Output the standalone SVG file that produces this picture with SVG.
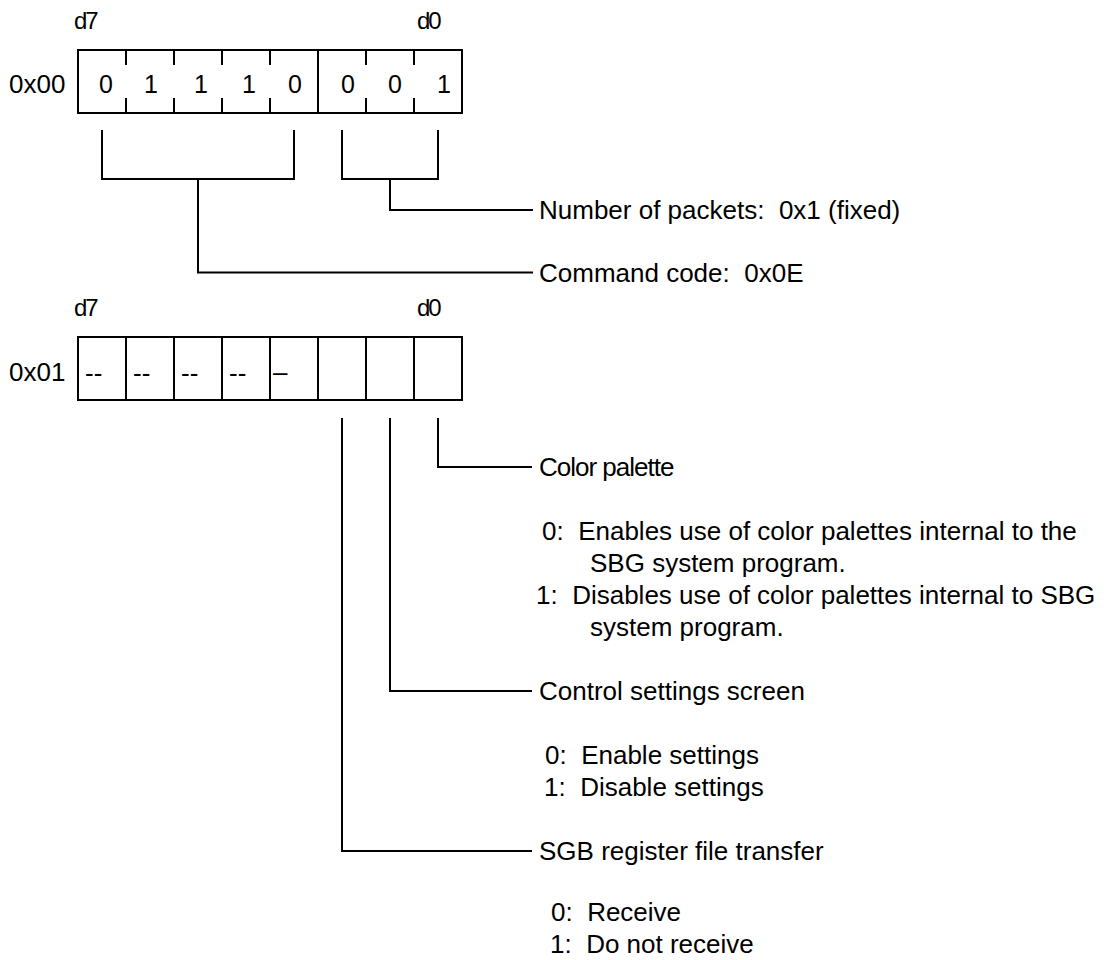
<svg xmlns="http://www.w3.org/2000/svg" width="1112" height="960" viewBox="0 0 1112 960">
<style>
text { font-family: "Liberation Sans", Arial, sans-serif; fill: #000; }
.t { font-size: 26px; }
.b { font-size: 25px; text-anchor: middle; }
.d { font-size: 24px; letter-spacing: -2px; }
.box { fill: none; stroke: #000; stroke-width: 2; }
.ln { fill: none; stroke: #000; stroke-width: 2; }
</style>
<rect x="0" y="0" width="1112" height="960" fill="#fff"/>

<g id="reg00">
  <text class="d" x="74" y="29">d7</text>
  <text class="d" x="417" y="29">d0</text>
  <text class="t" x="9" y="93">0x00</text>
  <rect class="box" x="78" y="50" width="384" height="63"/>
  <path class="ln" d="M126 50V65M174 50V65M222 50V65M270 50V65M366 50V65M414 50V65M126 98V113M174 98V113M222 98V113M270 98V113M366 98V113M414 98V113M318 50V113"/>
  <text class="b" x="106" y="93">0</text>
  <text class="b" x="151" y="93">1</text>
  <text class="b" x="201" y="93">1</text>
  <text class="b" x="249" y="93">1</text>
  <text class="b" x="295" y="93">0</text>
  <text class="b" x="348" y="93">0</text>
  <text class="b" x="395" y="93">0</text>
  <text class="b" x="444" y="93">1</text>
</g>

<g id="reg01">
  <text class="d" x="74" y="316">d7</text>
  <text class="d" x="417" y="316">d0</text>
  <text class="t" x="9" y="381">0x01</text>
  <rect class="box" x="78" y="337" width="384" height="63"/>
  <path class="ln" d="M126 337V400M174 337V400M222 337V400M270 337V400M318 337V400M366 337V400M414 337V400"/>
  <text class="t" x="85" y="382">--</text>
  <text class="t" x="133" y="382">--</text>
  <text class="t" x="181" y="382">--</text>
  <text class="t" x="229" y="382">--</text>
  <text class="t" x="273" y="381" font-size="20">–</text>
</g>

<g id="connectors">
  <path class="ln" d="M342 130V179H438V130"/>
  <path class="ln" d="M390 179V210H533"/>
  <path class="ln" d="M102 130V179H294V130"/>
  <path class="ln" d="M198 179V272.5H533"/>
  <path class="ln" d="M438 418V467H532"/>
  <path class="ln" d="M390 418V691H532"/>
  <path class="ln" d="M342 418V851H532"/>
</g>

<g id="lbl-packets">
  <text class="t" x="539" y="219" xml:space="preserve">Number of packets:  0x1 (fixed)</text>
</g>
<g id="lbl-command">
  <text class="t" x="539" y="282" xml:space="preserve">Command code:  0x0E</text>
</g>
<g id="lbl-color">
  <text class="t" x="539" y="476" letter-spacing="-1">Color palette</text>
  <text class="t" x="542" y="540" xml:space="preserve">0:  Enables use of color palettes internal to the</text>
  <text class="t" x="590" y="572">SBG system program.</text>
  <text class="t" x="536" y="604" xml:space="preserve">1:  Disables use of color palettes internal to SBG</text>
  <text class="t" x="590" y="636">system program.</text>
</g>
<g id="lbl-control">
  <text class="t" x="539" y="700">Control settings screen</text>
  <text class="t" x="545" y="764" xml:space="preserve">0:  Enable settings</text>
  <text class="t" x="544" y="796" xml:space="preserve">1:  Disable settings</text>
</g>
<g id="lbl-sgb">
  <text class="t" x="539" y="860">SGB register file transfer</text>
  <text class="t" x="551" y="921" xml:space="preserve">0:  Receive</text>
  <text class="t" x="550" y="953" xml:space="preserve">1:  Do not receive</text>
</g>
</svg>
